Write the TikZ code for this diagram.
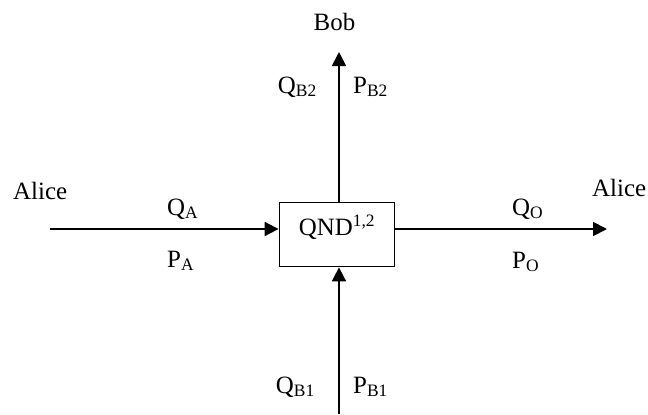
\documentclass[tikz,border=0pt]{standalone}
\usepackage{fontspec}
\setmainfont{Liberation Serif}
\usetikzlibrary{arrows.meta}
\tikzset{
  flow/.style={line width=1.8bp, -{Triangle[length=14bp, width=14bp]}},
  lbl/.style={inner sep=0pt, font=\fontsize{25}{29}\selectfont},
}

\begin{document}
\begin{tikzpicture}[x=1bp, y=1bp]
  \useasboundingbox (0,0) rectangle (648,414);

  % --- central QND box ---
  \node[draw, line width=1.8bp, minimum width=115bp, minimum height=64bp, inner sep=0pt] (qnd) at (337,179.5) {};
  \node[lbl, anchor=base] (qndtxt) at (337,179) {QND\textsuperscript{1,2}};

  % free ends of the four channels
  \coordinate (ain)  at (50,185);
  \coordinate (aout) at (607,185);
  \coordinate (bout) at (339,362);
  \coordinate (bin)  at (339,0);

  \draw[flow] (ain) -- (ain -| qnd.west);
  \draw[flow] (qnd.east |- aout) -- (aout);
  \draw[flow] (bout |- qnd.north) -- (bout);
  \draw[flow] (bin) -- (bin |- qnd.south);

  % --- parties ---
  \node[lbl, anchor=base west] (alicein)  at (13,215)  {Alice};
  \node[lbl, anchor=base west] (aliceout) at (592,218) {Alice};
  \node[lbl, anchor=base]      (bob)      at (334.5,384) {Bob};

  % --- quadrature labels ---
  \foreach \n/\x/\y/\a/\t in {qa/167/199/west/Q\textsubscript{A}, pa/167/147/west/P\textsubscript{A},
                              qo/512/199/west/Q\textsubscript{O}, po/512/146/west/P\textsubscript{O},
                              qbtwo/317/321/east/Q\textsubscript{B2}, pbtwo/353/321/west/P\textsubscript{B2},
                              qbone/315/21/east/Q\textsubscript{B1}, pbone/353/21/west/P\textsubscript{B1}} {
    \node[lbl, anchor=base \a] (\n) at (\x,\y) {\t};
  }
\end{tikzpicture}
\end{document}
